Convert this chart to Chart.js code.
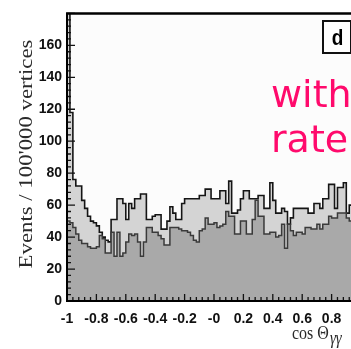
<!DOCTYPE html>
<html>
<head>
<meta charset="utf-8">
<script src="https://cdn.jsdelivr.net/npm/chart.js@4"></script>
<style>
html,body{margin:0;padding:0;background:#fff;overflow:hidden;width:351px;height:349px;}
canvas{display:block;}
</style>
</head>
<body>
<canvas id="c" width="380" height="349"></canvas>
<script>
// ---- data ----
const xMin = -1, xMax = 1, binWidth = 0.02;
const upperCounts = [200,118,76,72,72,63,58,53,50,49, 47,43,40,38,37,51,51,64,64,61,
  51,61,58,64,64,67,67,51,51,53, 54,54,45,45,50,59,55,51,51,61,
  64,64,64,64,64,66,66,70,70,64, 64,64,69,69,61,75,55,55,57,64,
  69,69,64,64,64,66,66,58,58,74, 63,55,55,58,56,48,52,58,58,58,
  58,58,55,55,61,61,58,64,64,73, 73,58,71,71,74,55,60,62,58,60];
const lowerCounts = [50,49,46,42,38,36,36,34,33,33, 34,41,39,30,30,43,28,43,28,30,
  37,42,41,42,37,28,37,46,46,43, 43,41,39,35,35,46,46,46,45,44,
  44,43,41,38,37,44,45,52,48,48, 49,46,47,48,56,53,53,42,42,50,
  50,42,42,51,63,53,53,42,42,43, 43,40,41,48,33,48,44,41,43,43,
  42,46,46,45,45,48,45,48,48,53, 52,52,55,55,55,52,50,48,50,52];
const xTickLabels = ['-1','-0.8','-0.6','-0.4','-0.2','-0','0.2','0.4','0.6','0.8','1'];
const yTickLabels = ['0','20','40','60','80','100','120','140','160'];
const yTitle = "Events / 100'000 vertices";
const xTitleMain = 'cos \u0398';
const xTitleSub = '\u03b3\u03b3';
const panelLabel = 'd';
const overlayLines = ['with', 'rate'];

function toSteps(counts){
  const pts = counts.map((v,i)=>({x: xMin + i*binWidth, y: v}));
  pts.push({x: xMax, y: counts[counts.length-1]});
  return pts;
}

const tickFont = {family:"'Liberation Sans', Arial, sans-serif", size:14, weight:'bold'};

const decor = {
  id:'decor',
  afterDraw(chart){
    const ctx = chart.ctx, ca = chart.chartArea, xs = chart.scales.x, ys = chart.scales.y;
    ctx.save();
    // inward ticks
    ctx.strokeStyle = '#111'; ctx.lineWidth = 1.3;
    ctx.beginPath();
    for(let k=0;k<=50;k++){
      const px = xs.getPixelForValue(-1 + k*0.04);
      const len = (k%5===0)?7:4;
      ctx.moveTo(px, ca.bottom); ctx.lineTo(px, ca.bottom-len);
    }
    for(let k=0;k<=45;k++){
      const py = ys.getPixelForValue(k*4);
      const len = (k%5===0)?8:4;
      ctx.moveTo(ca.left, py); ctx.lineTo(ca.left+len, py);
    }
    ctx.stroke();
    // frame
    ctx.strokeStyle = '#000';
    ctx.lineWidth = 2;
    ctx.beginPath();
    ctx.moveTo(ca.left, ca.top); ctx.lineTo(ca.left, ca.bottom); ctx.lineTo(ca.right, ca.bottom);
    ctx.stroke();
    ctx.lineWidth = 2.5;
    ctx.beginPath(); ctx.moveTo(ca.left-1, ca.top); ctx.lineTo(ca.right, ca.top); ctx.stroke();
    // panel label box
    ctx.fillStyle = '#fff';
    ctx.fillRect(323, 21, 28, 32);
    ctx.lineWidth = 2; ctx.strokeStyle = '#111';
    ctx.strokeRect(323, 21, 28, 32);
    ctx.fillStyle = '#000';
    ctx.save();
    ctx.scale(1, 1.2);
    ctx.font = "bold 19px 'Liberation Sans', sans-serif";
    ctx.textAlign = 'center'; ctx.textBaseline = 'alphabetic';
    ctx.fillText(panelLabel, 337.5, 45/1.2);
    ctx.restore();
    // y title
    ctx.save();
    ctx.fillStyle = '#2a2a2a';
    ctx.translate(27, 154);
    ctx.rotate(-Math.PI/2);
    ctx.scale(1.2, 1);
    ctx.font = "19px 'Liberation Serif', serif";
    ctx.textAlign = 'center'; ctx.textBaseline = 'middle';
    ctx.fillText(yTitle, 0, 0);
    ctx.restore();
    // x title
    ctx.save();
    ctx.fillStyle = '#2a2a2a';
    ctx.scale(1, 1.2);
    ctx.font = "16px 'Liberation Serif', serif";
    ctx.textAlign = 'left'; ctx.textBaseline = 'alphabetic';
    ctx.fillText(xTitleMain, 292, 339/1.2);
    const w = ctx.measureText(xTitleMain).width;
    ctx.font = "italic 15px 'Liberation Serif', serif";
    ctx.fillText(xTitleSub, 292 + w + 1, 344/1.2);
    ctx.restore();
    // overlay text
    ctx.fillStyle = '#ff0a6c';
    ctx.font = "38px 'DejaVu Sans', sans-serif";
    ctx.textAlign = 'left'; ctx.textBaseline = 'alphabetic';
    ctx.fillText(overlayLines[0], 271, 107);
    ctx.fillText(overlayLines[1], 271, 152);
    ctx.restore();
  },
  beforeDraw(chart){
    const ctx = chart.ctx, ca = chart.chartArea;
    ctx.save(); ctx.fillStyle = '#fcfcfc';
    ctx.fillRect(ca.left, ca.top, ca.right-ca.left, ca.bottom-ca.top);
    ctx.restore();
  }
};

new Chart(document.getElementById('c'), {
  type:'line',
  data:{
    datasets:[
      {data: toSteps(lowerCounts), stepped:'before', fill:'origin', backgroundColor:'#a9a9a9', borderColor:'#3a3a3a', borderWidth:1.5, pointRadius:0, order:0},
      {data: toSteps(upperCounts), stepped:'before', fill:'origin', backgroundColor:'#d4d4d4', borderColor:'#151515', borderWidth:1.6, pointRadius:0, order:1}
    ]
  },
  options:{
    responsive:false, animation:false, devicePixelRatio:1,
    layout:{padding:{top:10, right:19, left:0, bottom:0}},
    plugins:{legend:{display:false}, tooltip:{enabled:false}},
    scales:{
      x:{type:'linear', min:xMin, max:xMax,
        grid:{display:false, drawTicks:false}, border:{display:false},
        ticks:{stepSize:0.2, autoSkip:false, maxRotation:0, padding:10, color:'#111', font:tickFont,
          callback:(v,i)=> xTickLabels[i] ?? ''},
        afterFit:(s)=>{s.height = 48;}
      },
      y:{min:0, max:180,
        grid:{display:false, drawTicks:false}, border:{display:false},
        ticks:{stepSize:20, padding:5, color:'#111', font:tickFont,
          callback:(v,i)=> yTickLabels[i] ?? ''},
        afterFit:(s)=>{s.width = 67;}
      }
    }
  },
  plugins:[decor]
});
</script>
</body>
</html>
